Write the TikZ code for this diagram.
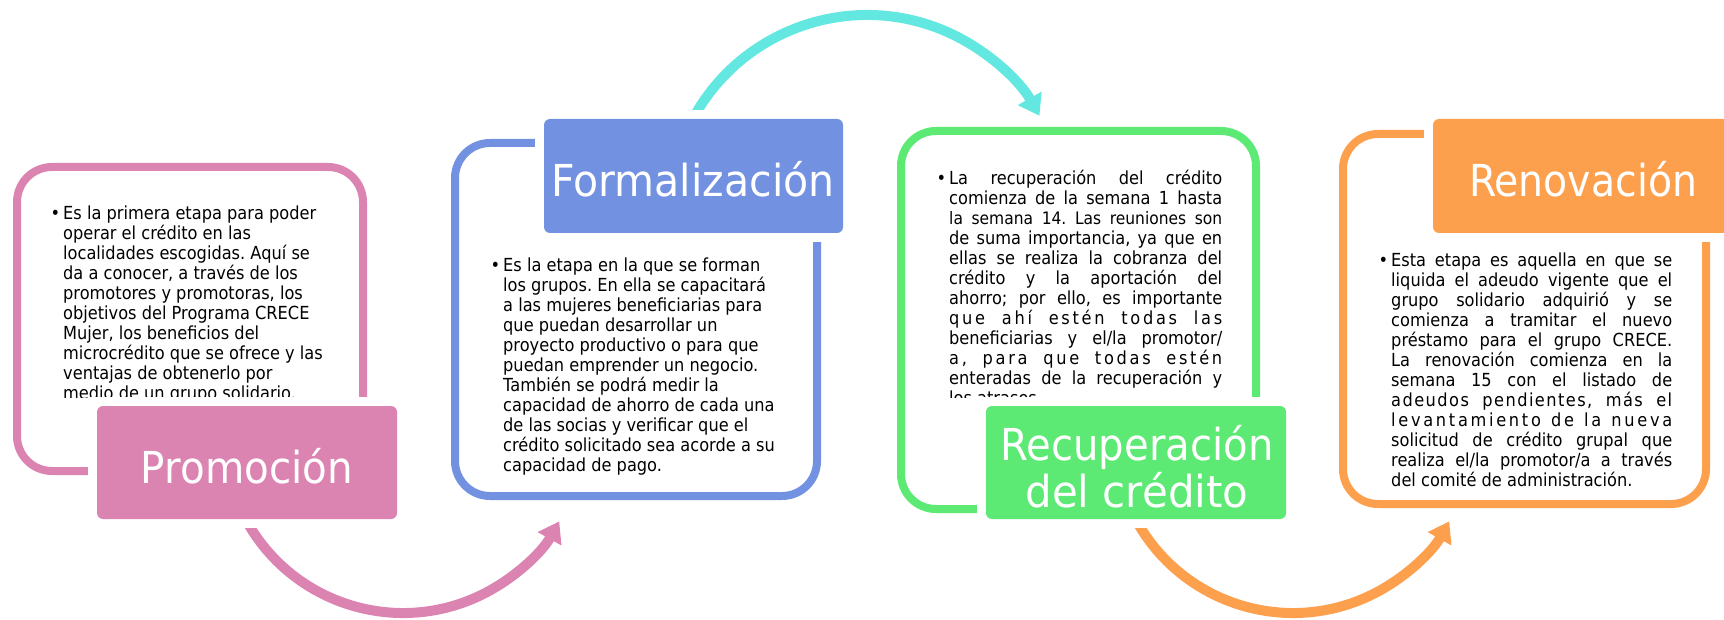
\documentclass[tikz,border=0pt]{standalone}
\usepackage{fontspec}
\usepackage{graphicx}
\setmainfont{DejaVu Sans}[FakeStretch=0.9]
\newfontfamily\ttlfont{DejaVu Sans}
\usetikzlibrary{arrows.meta}
\definecolor{cpink}{RGB}{219,132,178}
\definecolor{cblue}{RGB}{114,146,225}
\definecolor{cgreen}{RGB}{92,233,116}
\definecolor{corange}{RGB}{253,160,78}
\definecolor{ccyan}{RGB}{99,232,225}
\frenchspacing
\newcommand\bul{\llap{•\hspace{3pt}}}
\newcommand\rline[1]{\hbox{#1}}
\newcommand\jline[1]{\hbox to \hsize{#1}}
\newcommand\lsline[2]{\hbox to \hsize{\addfontfeature{LetterSpace=#1}#2}}
\newcommand\txtblock[2]{\vtop{\hsize=#1\relax#2}}
\tikzset{
  frame/.style={line width=8pt, rounded corners=35pt},
  halo/.style={fill=white},
  labelbox/.style={rounded corners=6pt},
  body/.style={inner sep=0pt, anchor=base west, font=\fontsize{18}{20}\selectfont},
  title/.style={inner sep=0pt, anchor=base, text=white, font=\ttlfont\fontsize{44}{47}\selectfont},
  flow/.style={line width=10pt, -{Triangle[length=20pt,width=26pt]}}
}
\begin{document}
\begin{tikzpicture}[x=1pt,y=-1pt]
\useasboundingbox (0,0) rectangle (1724,620);
\coordinate (c1) at (403,434);
\coordinate (c2) at (867,213);
\coordinate (c3) at (1293,434);

% outer frames
\draw[frame, draw=cpink]   (17,167)   rectangle (363,471);
\draw[frame, draw=cblue]   (455,143)  rectangle (817,496);
\draw[frame, draw=cgreen]  (901,131)  rectangle (1256,509);
\draw[frame, draw=corange] (1343,134) rectangle (1706,504);

% curved arrows
\draw[flow, color=cpink]   ([shift={(152:179)}]c1) arc[start angle=152, end angle=29.2, radius=179];
\draw[flow, color=ccyan]   ([shift={(207:198)}]c2) arc[start angle=207, end angle=330.6, radius=198];
\draw[flow, color=corange] ([shift={(152:179)}]c3) arc[start angle=152, end angle=29.2, radius=179];

% body texts
\begin{scope}
\clip (0,0) rectangle (440,397);
\node[body] (t1) at (63,220) {\txtblock{262pt}{%
\rline{\bul Es la primera etapa para poder}
\rline{operar el crédito en las}
\rline{localidades escogidas. Aquí se}
\rline{da a conocer, a través de los}
\rline{promotores y promotoras, los}
\rline{objetivos del Programa CRECE}
\rline{Mujer, los beneficios del}
\rline{microcrédito que se ofrece y las}
\rline{ventajas de obtenerlo por}
\rline{medio de un grupo solidario.}}};
\end{scope}

\node[body] (t2) at (503,272) {\txtblock{280pt}{%
\rline{\bul Es la etapa en la que se forman}
\rline{los grupos. En ella se capacitará}
\rline{a las mujeres beneficiarias para}
\rline{que puedan desarrollar un}
\rline{proyecto productivo o para que}
\rline{puedan emprender un negocio.}
\rline{También se podrá medir la}
\rline{capacidad de ahorro de cada una}
\rline{de las socias y verificar que el}
\rline{crédito solicitado sea acorde a su}
\rline{capacidad de pago.}}};

\begin{scope}
\clip (880,0) rectangle (1300,397);
\node[body] (t3) at (949,185) {\txtblock{273pt}{%
\jline{\bul La recuperación del crédito}
\jline{comienza de la semana 1 hasta}
\jline{\fontsize{17.2}{20}\selectfont la semana 14. Las reuniones son}
\jline{de suma importancia, ya que en}
\jline{ellas se realiza la cobranza del}
\jline{crédito y la aportación del}
\jline{ahorro; por ello, es importante}
\lsline{15}{que ahí estén todas las}
\jline{beneficiarias y el/la promotor/}
\lsline{15}{a, para que todas estén}
\jline{enteradas de la recuperación y}
\rline{los atrasos.}}};
\end{scope}

\node[body] (t4) at (1391,267) {\txtblock{281pt}{%
\jline{\bul Esta etapa es aquella en que se}
\jline{liquida el adeudo vigente que el}
\jline{grupo solidario adquirió y se}
\jline{comienza a tramitar el nuevo}
\jline{préstamo para el grupo CRECE.}
\jline{La renovación comienza en la}
\jline{semana 15 con el listado de}
\lsline{8}{adeudos pendientes, más el}
\lsline{15}{levantamiento de la nueva}
\jline{solicitud de crédito grupal que}
\jline{realiza el/la promotor/a a través}
\rline{del comité de administración.}}};

% white gaps around the title boxes
\fill[halo] (88,397)   rectangle (406,528);
\fill[halo] (535,110)  rectangle (852,242);
\fill[halo] (977,397)  rectangle (1295,528);
\fill[halo] (1424,110) rectangle (1742,242);

% title boxes
\fill[labelbox, cpink]   (97,406)   rectangle (397,519);
\fill[labelbox, cblue]   (544,119)  rectangle (843,233);
\fill[labelbox, cgreen]  (986,406)  rectangle (1286,519);
\fill[labelbox, corange] (1433,119) rectangle (1733,233);

\node[title] (n1) at (247,483) {\resizebox{212pt}{\height}{Promoción}};
\node[title] (n2) at (693,197) {\resizebox{283pt}{\height}{Formalización}};
\node[title] (n3a) at (1137,460) {\resizebox{273pt}{\height}{Recuperación}};
\node[title] (n3b) at (1137,507) {\resizebox{223pt}{\height}{del crédito}};
\node[title] (n4) at (1583,197) {\resizebox{228pt}{\height}{Renovación}};
\end{tikzpicture}
\end{document}
